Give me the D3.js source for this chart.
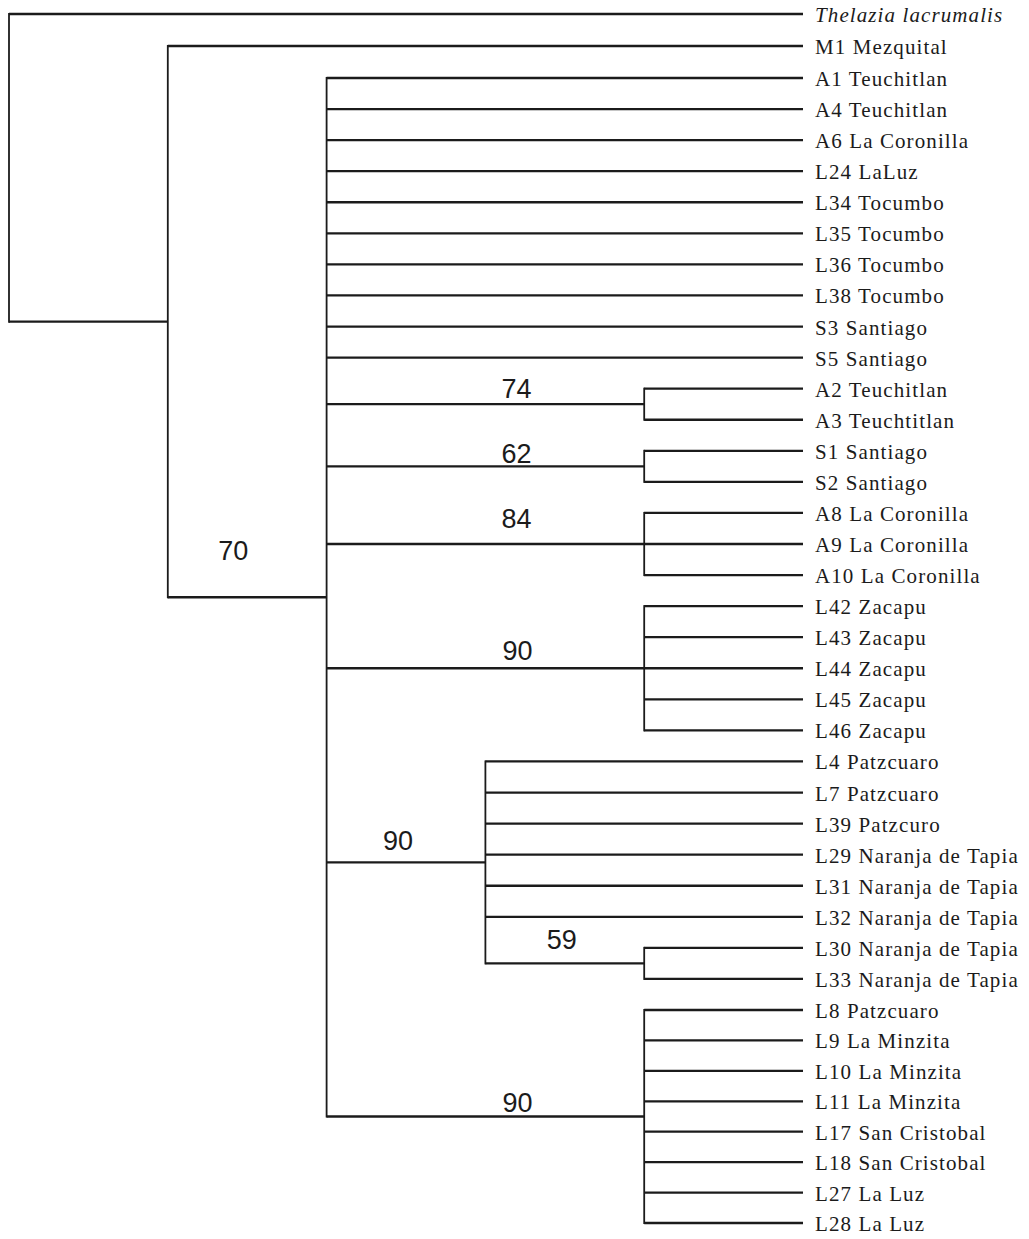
<!DOCTYPE html>
<html>
<head>
<meta charset="utf-8">
<script src="https://cdn.jsdelivr.net/npm/d3@7"></script>
<style>
  html, body { margin: 0; padding: 0; background: #fff; }
  svg { display: block; }
</style>
</head>
<body>
<div id="chart"></div>
<script>
// Leaf groups, top to bottom as in the figure
const outgroup = ['Thelazia lacrumalis'];
const sister = ['M1 Mezquital'];
const polytomy = [
  'A1 Teuchitlan', 'A4 Teuchitlan', 'A6 La Coronilla', 'L24 LaLuz',
  'L34 Tocumbo', 'L35 Tocumbo', 'L36 Tocumbo', 'L38 Tocumbo',
  'S3 Santiago', 'S5 Santiago'
];
const teuchitlan = ['A2 Teuchitlan', 'A3 Teuchtitlan'];
const santiago = ['S1 Santiago', 'S2 Santiago'];
const coronilla = ['A8 La Coronilla', 'A9 La Coronilla', 'A10 La Coronilla'];
const zacapu = ['L42 Zacapu', 'L43 Zacapu', 'L44 Zacapu', 'L45 Zacapu', 'L46 Zacapu'];
const patzcuaro = [
  'L4 Patzcuaro', 'L7 Patzcuaro', 'L39 Patzcuro',
  'L29 Naranja de Tapia', 'L31 Naranja de Tapia', 'L32 Naranja de Tapia'
];
const naranja = ['L30 Naranja de Tapia', 'L33 Naranja de Tapia'];
const minzita = [
  'L8 Patzcuaro', 'L9 La Minzita', 'L10 La Minzita', 'L11 La Minzita',
  'L17 San Cristobal', 'L18 San Cristobal', 'L27 La Luz', 'L28 La Luz'
];

// Bootstrap support per clade
const cladeKeys = ['ingroup', 'teuchitlan', 'santiago', 'coronilla', 'zacapu', 'patzcuaro', 'naranja', 'minzita'];
const cladeSupport = [70, 74, 62, 84, 90, 90, 59, 90];

const leaf = name => ({ name });
const clade = (key, children) => ({ key, support: cladeSupport[cladeKeys.indexOf(key)], children });

const treeData = {
  children: [
    leaf(outgroup[0]),
    {
      children: [
        leaf(sister[0]),
        clade('ingroup', [
          ...polytomy.map(leaf),
          clade('teuchitlan', teuchitlan.map(leaf)),
          clade('santiago', santiago.map(leaf)),
          clade('coronilla', coronilla.map(leaf)),
          clade('zacapu', zacapu.map(leaf)),
          clade('patzcuaro', [...patzcuaro.map(leaf), clade('naranja', naranja.map(leaf))]),
          clade('minzita', minzita.map(leaf))
        ])
      ]
    }
  ]
};

const width = 1029;
const height = 1239;

const svg = d3.select('#chart')
  .append('svg')
  .attr('width', width)
  .attr('height', height)
  .style('background', '#fff');

const root = d3.hierarchy(treeData);
const leaves = root.leaves();

// horizontal: leaves aligned right, nodes placed by height (cladogram)
const x = d3.scaleLinear()
  .domain([0, root.height])
  .range([9, 803]);

// vertical: leaf row index (scan is slightly uneven, so a piecewise scale)
const y = d3.scaleLinear()
  .domain([0, 2, 32, leaves.length - 1])
  .range([14, 78, 1010, 1223]);

leaves.forEach((d, i) => { d.py = y(i); });
root.eachAfter(d => {
  d.px = x(root.height - d.height);
  if (d.children) {
    const first = d.children[0].py;
    const last = d.children[d.children.length - 1].py;
    d.py = (first + last) / 2;
  }
});
// the root is drawn level with the ingroup branch
root.py = root.children[root.children.length - 1].py;

const ink = '#1b1b1b';
const g = svg.append('g');

// vertical connectors
g.selectAll('line.v')
  .data(root.descendants().filter(d => d.children))
  .join('line')
  .attr('class', 'v')
  .attr('x1', d => d.px)
  .attr('x2', d => d.px)
  .attr('y1', d => d3.min([d.py, ...d.children.map(c => c.py)]) - 1)
  .attr('y2', d => d3.max([d.py, ...d.children.map(c => c.py)]) + 1)
  .attr('stroke', ink)
  .attr('stroke-width', 1.8);

// horizontal branches
g.selectAll('line.h')
  .data(root.descendants().filter(d => d.parent))
  .join('line')
  .attr('class', 'h')
  .attr('x1', d => d.parent.px)
  .attr('x2', d => d.px)
  .attr('y1', d => d.py)
  .attr('y2', d => d.py)
  .attr('stroke', ink)
  .attr('stroke-width', 2.3);

// leaf labels
g.selectAll('text.leaf')
  .data(leaves)
  .join('text')
  .attr('class', 'leaf')
  .attr('x', d => d.px + 12)
  .attr('y', d => d.py + 8)
  .attr('font-family', '"Liberation Serif", "Times New Roman", serif')
  .attr('font-size', '21px')
  .attr('letter-spacing', '1.1px')
  .attr('font-style', d => outgroup.includes(d.data.name) ? 'italic' : 'normal')
  .attr('fill', ink)
  .text(d => d.data.name);

// support values sit above the branch, hand-placed as in the original
const nudge = {
  ingroup: [-14, -37],
  teuchitlan: [31, -6],
  santiago: [31, -3],
  coronilla: [31, -16],
  zacapu: [32, -8],
  patzcuaro: [-8, -12],
  naranja: [-3, -14],
  minzita: [32, -5]
};

g.selectAll('text.support')
  .data(root.descendants().filter(d => d.data.support != null))
  .join('text')
  .attr('class', 'support')
  .attr('x', d => (d.parent.px + d.px) / 2 + nudge[d.data.key][0])
  .attr('y', d => d.py + nudge[d.data.key][1])
  .attr('text-anchor', 'middle')
  .attr('font-family', '"Liberation Sans", Arial, sans-serif')
  .attr('font-size', '27px')
  .attr('fill', ink)
  .text(d => d.data.support);
</script>
</body>
</html>
